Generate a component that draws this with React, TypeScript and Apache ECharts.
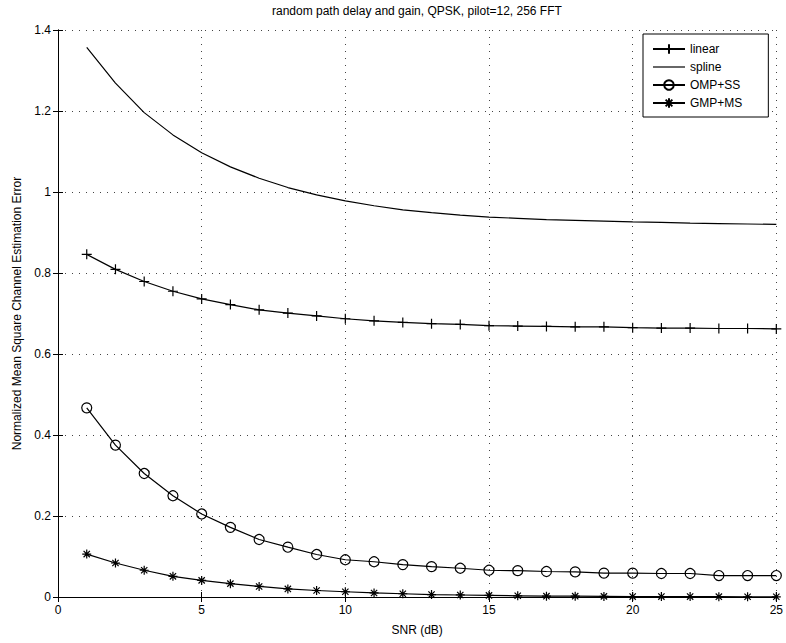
import React, { useEffect, useRef } from 'react';
import * as echarts from 'echarts';

const snr = [1, 2, 3, 4, 5, 6, 7, 8, 9, 10, 11, 12, 13, 14, 15, 16, 17, 18, 19, 20, 21, 22, 23, 24, 25];
const linear = [0.846, 0.809, 0.779, 0.755, 0.736, 0.722, 0.709, 0.701, 0.694, 0.687, 0.682, 0.678, 0.675, 0.673, 0.670, 0.669, 0.668, 0.667, 0.667, 0.665, 0.664, 0.664, 0.663, 0.663, 0.662];
const spline = [1.357, 1.269, 1.196, 1.141, 1.097, 1.062, 1.034, 1.011, 0.993, 0.978, 0.966, 0.956, 0.949, 0.943, 0.938, 0.935, 0.932, 0.930, 0.928, 0.926, 0.925, 0.923, 0.922, 0.921, 0.920];
const ompSS = [0.467, 0.375, 0.305, 0.250, 0.205, 0.172, 0.142, 0.123, 0.105, 0.092, 0.087, 0.080, 0.075, 0.071, 0.066, 0.065, 0.063, 0.062, 0.059, 0.059, 0.058, 0.058, 0.053, 0.053, 0.053];
const gmpMS = [0.106, 0.084, 0.066, 0.051, 0.041, 0.033, 0.026, 0.020, 0.016, 0.013, 0.010, 0.008, 0.006, 0.005, 0.004, 0.003, 0.002, 0.002, 0.0015, 0.001, 0.001, 0.001, 0.0008, 0.0006, 0.0005];

const seriesNames = ['linear', 'spline', 'OMP+SS', 'GMP+MS'];
const titleText = 'random path delay and gain, QPSK, pilot=12, 256 FFT';
const xName = 'SNR (dB)';
const yName = 'Normalized Mean Square Channel Estimation Error';

const FONT = '"Liberation Sans", Arial, Helvetica, sans-serif';
const PLUS = 'path://M5,0L5,10M0,5L10,5';
const STAR = 'path://M5,0L5,10M0,5L10,5M1.5,1.5L8.5,8.5M1.5,8.5L8.5,1.5';
const LINE_ICON = 'path://M0,0L32,0L32,1.2L0,1.2Z';

function pairs(ys: number[]) {
  return snr.map((x, i) => [x, ys[i]]);
}

export default function App() {
  const ref = useRef<HTMLDivElement>(null);
  useEffect(() => {
    const chart = echarts.init(ref.current!, null, { renderer: 'svg' });
    const baseX = {
      type: 'value' as const,
      min: 0,
      max: 25,
      interval: 5,
      axisLine: { show: true, lineStyle: { color: '#000', width: 1 } },
      axisTick: { show: true, inside: true, length: 5, lineStyle: { color: '#000' } },
    };
    const baseY = {
      type: 'value' as const,
      min: 0,
      max: 1.4,
      interval: 0.2,
      axisLine: { show: true, lineStyle: { color: '#000', width: 1 } },
      axisTick: { show: true, inside: true, length: 5, lineStyle: { color: '#000' } },
    };
    const grid = { type: [1, 6] as any, color: '#444', width: 1 };
    const lineSeries = (name: string, ys: number[], extra: any) => ({
      name,
      type: 'line',
      data: pairs(ys),
      lineStyle: { color: '#000', width: 1.2 },
      itemStyle: { color: 'rgba(0,0,0,0)', borderColor: '#000', borderWidth: 1.2 },
      emphasis: { disabled: true },
      showAllSymbol: true,
      ...extra,
    });
    chart.setOption({
      animation: false,
      backgroundColor: '#fff',
      textStyle: { fontFamily: FONT, color: '#000' },
      title: {
        text: titleText,
        left: 272,
        top: 5,
        padding: 0,
        textStyle: { fontFamily: FONT, fontSize: 12, fontWeight: 'normal', color: '#000' },
      },
      grid: { left: 58, right: 9, top: 30, bottom: 46 },
      legend: {
        data: [
          { name: seriesNames[0] },
          { name: seriesNames[1], icon: LINE_ICON, itemStyle: { color: '#000', borderWidth: 0 } },
          { name: seriesNames[2] },
          { name: seriesNames[3] },
        ],
        orient: 'vertical',
        left: 643,
        top: 34,
        padding: [9, 26, 8, 9],
        itemGap: 6,
        itemWidth: 32,
        itemHeight: 12,
        borderColor: '#000',
        borderWidth: 1,
        borderRadius: 0,
        backgroundColor: '#fff',
        textStyle: { fontFamily: FONT, fontSize: 12, color: '#000' },
        z: 10,
      },
      xAxis: [
        {
          ...baseX,
          position: 'bottom',
          axisLabel: { show: true, color: '#000', fontSize: 12, fontFamily: FONT, margin: 7 },
          splitLine: { show: true, lineStyle: grid },
          name: xName,
          nameLocation: 'middle',
          nameGap: 27,
          nameTextStyle: { color: '#000', fontSize: 12, fontFamily: FONT },
        },
        {
          ...baseX,
          position: 'top',
          axisLabel: { show: false },
          splitLine: { show: false },
        },
      ],
      yAxis: [
        {
          ...baseY,
          position: 'left',
          axisLabel: { show: true, color: '#000', fontSize: 12, fontFamily: FONT, margin: 7 },
          splitLine: { show: true, lineStyle: grid },
          name: yName,
          nameLocation: 'middle',
          nameGap: 34,
          nameTextStyle: { color: '#000', fontSize: 12, fontFamily: FONT },
        },
        {
          ...baseY,
          position: 'right',
          axisLabel: { show: false },
          splitLine: { show: false },
        },
      ],
      series: [
        lineSeries('linear', linear, { symbol: PLUS, symbolSize: 10 }),
        lineSeries('spline', spline, { symbol: 'none' }),
        lineSeries('OMP+SS', ompSS, { symbol: 'circle', symbolSize: 10 }),
        lineSeries('GMP+MS', gmpMS, { symbol: STAR, symbolSize: 9 }),
      ],
    });
    return () => chart.dispose();
  }, []);
  return (
    <div
      ref={ref}
      style={{ position: 'fixed', left: 0, top: 0, width: 786, height: 643, background: '#fff' }}
    />
  );
}
